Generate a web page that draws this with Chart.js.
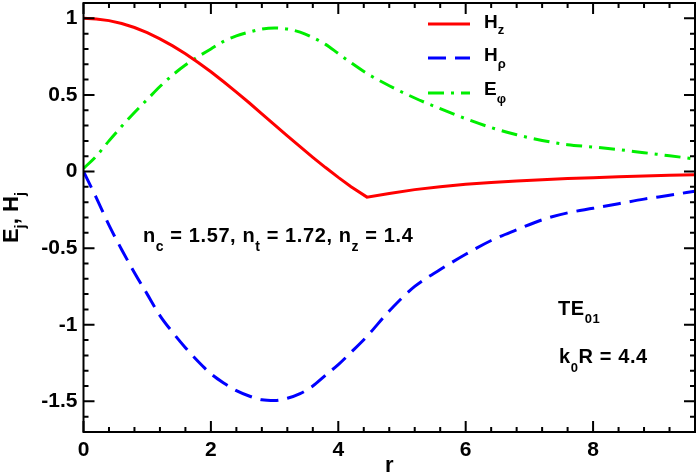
<!DOCTYPE html>
<html>
<head>
<meta charset="utf-8">
<script src="https://cdn.jsdelivr.net/npm/chart.js@4.4.0/dist/chart.umd.min.js"></script>
<style>
  html, body { margin: 0; padding: 0; background: #fff; }
</style>
</head>
<body>
<canvas id="fieldChart" width="698" height="475"></canvas>
<script>
// r values (dense inside the core, coarser in the cladding)
const rVals = [0, 0.2, 0.4, 0.6, 0.8, 1.0, 1.2, 1.4, 1.6, 1.8, 2.0, 2.2, 2.4, 2.6, 2.8, 3.0,
  3.2, 3.4, 3.6, 3.8, 4.0, 4.2, 4.45, 4.8, 5.2, 5.6, 6.0, 6.4, 6.8, 7.2, 7.6, 8.0, 8.4, 8.8, 9.2, 9.6];
const hz = [1.0, 0.996, 0.985, 0.966, 0.94, 0.906, 0.866, 0.82, 0.769, 0.712, 0.651, 0.586, 0.518, 0.449, 0.377, 0.305,
  0.233, 0.162, 0.093, 0.026, -0.038, -0.099, -0.167, -0.143, -0.118, -0.099, -0.083, -0.071, -0.061, -0.053, -0.046, -0.04, -0.034, -0.029, -0.025, -0.021];
const hRho = [0, -0.17, -0.35, -0.51, -0.66, -0.8, -0.94, -1.05, -1.15, -1.24, -1.32, -1.38, -1.43, -1.465, -1.49, -1.495,
  -1.48, -1.45, -1.4, -1.33, -1.26, -1.18, -1.076, -0.91, -0.75, -0.64, -0.54, -0.45, -0.38, -0.315, -0.27, -0.24, -0.21, -0.18, -0.155, -0.128];
const ePhi = [0.02, 0.1, 0.2, 0.295, 0.385, 0.47, 0.555, 0.63, 0.695, 0.75, 0.8, 0.85, 0.885, 0.91, 0.93, 0.937,
  0.93, 0.91, 0.875, 0.83, 0.77, 0.71, 0.64, 0.56, 0.48, 0.41, 0.345, 0.287, 0.24, 0.203, 0.175, 0.16, 0.143, 0.123, 0.103, 0.082];

const xTicks = [0, 2, 4, 6, 8];
const yTicks = [-1.5, -1, -0.5, 0, 0.5, 1];

const FONT = '"Liberation Sans", Arial, sans-serif';

const pts = arr => rVals.map((r, i) => ({ x: r, y: arr[i] }));

// text with subscripts: parts = [[main, sub], ...]
function subText(ctx, x, y, parts, size, subSize, shift) {
  for (const [main, sub] of parts) {
    ctx.font = `bold ${size}px ${FONT}`;
    ctx.fillText(main, x, y);
    x += ctx.measureText(main).width;
    if (sub) {
      ctx.font = `bold ${subSize}px ${FONT}`;
      ctx.fillText(sub, x, y + shift);
      x += ctx.measureText(sub).width;
    }
  }
  return x;
}
function subWidth(ctx, parts, size, subSize) {
  let w = 0;
  for (const [main, sub] of parts) {
    ctx.font = `bold ${size}px ${FONT}`;
    w += ctx.measureText(main).width;
    if (sub) { ctx.font = `bold ${subSize}px ${FONT}`; w += ctx.measureText(sub).width; }
  }
  return w;
}

const framePlugin = {
  id: 'frame',
  afterDatasetsDraw(chart) {
    const { ctx, chartArea: a, scales: { x, y } } = chart;
    ctx.save();
    ctx.strokeStyle = '#000';
    ctx.lineWidth = 2;
    ctx.beginPath();
    for (let i = 0; i <= 24; i++) {
      const px = x.getPixelForValue(i * 0.4);
      const L = i % 5 === 0 ? 11 : 5;
      ctx.moveTo(px, a.bottom); ctx.lineTo(px, a.bottom - L);
      ctx.moveTo(px, a.top); ctx.lineTo(px, a.top + L);
    }
    for (let i = -17; i <= 11; i++) {
      const py = y.getPixelForValue(i / 10);
      const L = i % 5 === 0 ? 11 : 5;
      ctx.moveTo(a.left, py); ctx.lineTo(a.left + L, py);
      ctx.moveTo(a.right, py); ctx.lineTo(a.right - L, py);
    }
    ctx.stroke();
    ctx.strokeRect(a.left, a.top, a.right - a.left, a.bottom - a.top);

    // legend
    const entries = [
      { ds: chart.data.datasets[0], y: 24, label: [['H', 'z']], lb: 28, sh: 6 },
      { ds: chart.data.datasets[1], y: 58, label: [['H', 'ρ']], lb: 61, sh: 7 },
      { ds: chart.data.datasets[2], y: 93, label: [['E', 'φ']], lb: 95, sh: 8 }
    ];
    ctx.fillStyle = '#000';
    ctx.textBaseline = 'alphabetic';
    ctx.textAlign = 'left';
    entries.forEach(e => {
      ctx.save();
      ctx.strokeStyle = e.ds.borderColor;
      ctx.lineWidth = e.ds.borderWidth;
      ctx.setLineDash(e.ds.borderDash || []);
      ctx.beginPath();
      ctx.moveTo(428, e.y); ctx.lineTo(470, e.y);
      ctx.stroke();
      ctx.restore();
      subText(ctx, 484, e.lb, e.label, 19, 13, e.sh);
    });

    // annotations
    ctx.letterSpacing = '0.6px';
    subText(ctx, 143, 242, [['n', 'c'], [' = 1.57, n', 't'], [' = 1.72, n', 'z'], [' = 1.4', '']], 20, 14, 9);
    subText(ctx, 558, 315, [['TE', '01']], 20, 13, 8);
    subText(ctx, 559, 363, [['k', '0'], ['R = 4.4', '']], 20, 13, 9);
    ctx.letterSpacing = '0px';

    // axis titles
    ctx.font = `bold 22px ${FONT}`;
    ctx.textAlign = 'center';
    ctx.fillText('r', (a.left + a.right) / 2, 472);
    ctx.textAlign = 'left';
    const yTitle = [['E', 'j'], [', H', 'j']];
    const w = subWidth(ctx, yTitle, 22, 15);
    ctx.translate(18, (a.top + a.bottom) / 2);
    ctx.rotate(-Math.PI / 2);
    subText(ctx, -w / 2, 0, yTitle, 22, 15, 7);
    ctx.restore();
  }
};

new Chart(document.getElementById('fieldChart'), {
  type: 'line',
  data: {
    datasets: [
      { label: 'Hz', data: pts(hz), borderColor: '#ff0000', borderWidth: 3, tension: 0, pointRadius: 0, fill: false },
      { label: 'Hrho', data: pts(hRho), borderColor: '#0000ff', borderWidth: 3, borderDash: [18, 9], cubicInterpolationMode: 'monotone', pointRadius: 0, fill: false },
      { label: 'Ephi', data: pts(ePhi), borderColor: '#00ee00', borderWidth: 3, borderDash: [16, 7, 3, 7], cubicInterpolationMode: 'monotone', pointRadius: 0, fill: false }
    ]
  },
  options: {
    responsive: false,
    animation: false,
    layout: { padding: { left: 0, right: 3, top: 3, bottom: 0 } },
    plugins: { legend: { display: false }, tooltip: { enabled: false } },
    scales: {
      x: {
        type: 'linear', min: 0, max: 9.6,
        afterBuildTicks: s => { s.ticks = xTicks.map(v => ({ value: v })); },
        afterFit: s => { s.height = 43; s.paddingLeft = 0; s.paddingRight = 0; },
        grid: { display: false, drawTicks: false },
        border: { display: false },
        ticks: { color: '#000', padding: 6, maxRotation: 0, font: { family: FONT, size: 21, weight: 'bold' }, callback: v => String(v) }
      },
      y: {
        type: 'linear', min: -1.7, max: 1.1,
        afterBuildTicks: s => { s.ticks = yTicks.map(v => ({ value: v })); },
        afterFit: s => { s.width = 83.5; s.paddingTop = 0; s.paddingBottom = 0; },
        grid: { display: false, drawTicks: false },
        border: { display: false },
        ticks: { color: '#000', padding: 6, font: { family: FONT, size: 21, weight: 'bold' }, callback: v => String(v) }
      }
    }
  },
  plugins: [framePlugin]
});
</script>
</body>
</html>
